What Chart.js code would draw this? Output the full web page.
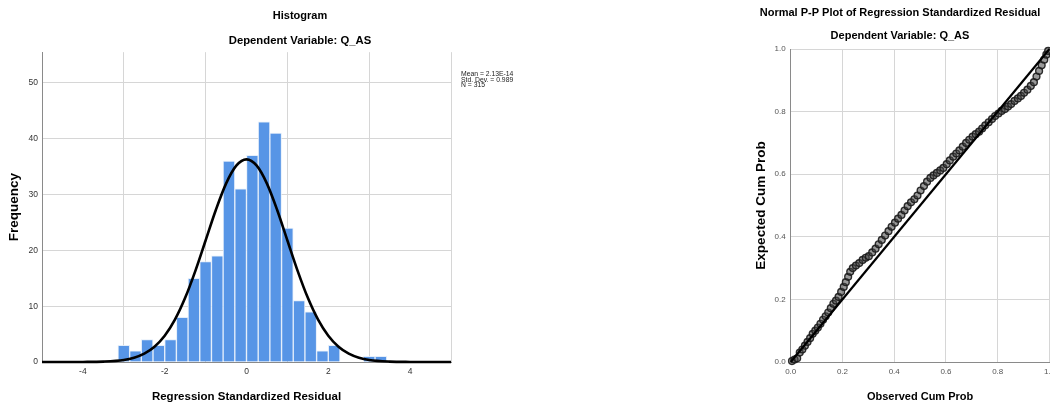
<!DOCTYPE html>
<html><head><meta charset="utf-8">
<script src="https://cdn.jsdelivr.net/npm/chart.js@4.4.1/dist/chart.umd.min.js"></script>
<style>
html,body{margin:0;padding:0;background:#fff;overflow:hidden;width:1050px;height:405px;}
#h{position:absolute;left:0;top:0;}
#p{position:absolute;left:740px;top:0;}
#stats{position:absolute;left:461px;top:71px;font:6.8px 'Liberation Sans',Arial,sans-serif;line-height:5.6px;color:#222;white-space:nowrap;}
</style></head><body>
<canvas id="h" width="600" height="405"></canvas>
<canvas id="p" width="320" height="405"></canvas>
<div id="stats"></div>
<script>
// ---- Histogram data ----
const binCenters = [-3.000,-2.714,-2.429,-2.143,-1.857,-1.571,-1.286,-1.000,-0.714,-0.429,-0.143,0.143,0.429,0.714,1.000,1.286,1.571,1.857,2.143,2.429,2.714,3.000,3.286];
const frequencies = [3,2,4,3,4,8,15,18,19,36,31,37,43,41,24,11,9,2,3,0,0,1,1];
const curveX = [-5,-4.5,-4,-3.5,-3,-2.75,-2.5,-2.25,-2,-1.75,-1.5,-1.25,-1,-0.75,-0.5,-0.25,0,0.25,0.5,0.75,1,1.25,1.5,1.75,2,2.25,2.5,2.75,3,3.5,4,4.5,5];
const curveY = [0,0,0.01,0.07,0.36,0.76,1.49,2.73,4.70,7.58,11.49,16.33,21.77,27.23,31.95,35.16,36.30,35.16,31.95,27.23,21.77,16.33,11.49,7.58,4.70,2.73,1.49,0.76,0.36,0.07,0.01,0,0];
const histXTicks = [-4,-2,0,2,4];
const histYTicks = [0,10,20,30,40,50];
const statsLines = ['Mean = 2.13E-14','Std. Dev. = 0.989','N = 315'];

// ---- P-P plot data ----
const observedCumProb = [0.005,0.015,0.025,0.035,0.045,0.055,0.065,0.075,0.085,0.095,0.105,0.115,0.125,0.135,0.145,0.155,0.165,0.175,0.185,0.195,0.205,0.213,0.222,0.230,0.240,0.252,0.265,0.278,0.290,0.302,0.315,0.328,0.340,0.352,0.365,0.378,0.390,0.403,0.415,0.428,0.440,0.452,0.465,0.478,0.490,0.502,0.515,0.527,0.540,0.552,0.565,0.578,0.590,0.603,0.615,0.628,0.640,0.652,0.665,0.678,0.690,0.703,0.715,0.728,0.740,0.752,0.765,0.778,0.790,0.803,0.815,0.828,0.840,0.852,0.865,0.878,0.890,0.902,0.915,0.928,0.940,0.950,0.960,0.970,0.980,0.988,0.995];
const expectedCumProb = [0.003,0.008,0.012,0.030,0.040,0.052,0.064,0.076,0.090,0.100,0.110,0.122,0.135,0.146,0.158,0.172,0.186,0.196,0.208,0.224,0.240,0.255,0.272,0.288,0.300,0.308,0.316,0.326,0.333,0.338,0.350,0.362,0.376,0.390,0.404,0.418,0.432,0.445,0.458,0.470,0.484,0.498,0.510,0.520,0.532,0.548,0.562,0.576,0.588,0.596,0.604,0.612,0.620,0.632,0.644,0.656,0.666,0.676,0.688,0.700,0.710,0.720,0.728,0.736,0.746,0.756,0.766,0.776,0.786,0.794,0.802,0.808,0.816,0.824,0.834,0.842,0.850,0.860,0.870,0.882,0.894,0.912,0.930,0.948,0.966,0.982,0.994];
const referenceLineX = [0,1];
const referenceLineY = [0,1];
const ppTicks = [0,0.2,0.4,0.6,0.8,1.0];

document.getElementById('stats').innerHTML = statsLines.join('<br>');

const FAM = "'Liberation Sans', Arial, sans-serif";
Chart.defaults.font.family = FAM;
const gridColor = '#d6d6d6';
const axisColor = '#8a8a8a';

new Chart(document.getElementById('h'), {
  type: 'bar',
  data: {
    datasets: [
      {type:'line', data: curveX.map((x,i)=>({x:x, y:curveY[i]})), borderColor:'#000', borderWidth:2.6,
       pointRadius:0, cubicInterpolationMode:'monotone', order:0, clip:false},
      {type:'bar', data: binCenters.map((x,i)=>({x:x, y:frequencies[i]})), backgroundColor:'#5795e6',
       borderColor:'rgba(225,236,250,0.9)', borderWidth:{left:1,right:1,top:1,bottom:0},
       barPercentage:1, categoryPercentage:1, order:1}
    ]
  },
  options: {
    responsive:false, animation:false, devicePixelRatio:1,
    layout:{padding:0},
    plugins:{
      legend:{display:false}, tooltip:{enabled:false},
      title:{display:true, text:'Histogram', color:'#000', font:{size:11, weight:'bold'}, padding:{top:9.4,bottom:4}},
      subtitle:{display:true, text:'Dependent Variable: Q_AS', color:'#000', font:{size:11.3, weight:'bold'}, padding:{top:7.6,bottom:4.4}}
    },
    scales:{
      x:{type:'linear', min:-5, max:5, offset:false,
         afterBuildTicks: s => { s.ticks = histXTicks.map(v=>({value:v})); },
         afterFit: s => { s.height = 43; },
         grid:{color:gridColor, drawTicks:false}, border:{display:true, color:axisColor},
         ticks:{color:'#333', font:{size:8.5}, padding:5},
         title:{display:true, text:'Regression Standardized Residual', color:'#000', font:{size:11.5, weight:'bold'}, padding:{top:0,bottom:1.1}}},
      y:{type:'linear', min:0, max:55.5,
         afterBuildTicks: s => { s.ticks = histYTicks.map(v=>({value:v})); },
         afterFit: s => { s.width = 42; },
         grid:{color:gridColor, drawTicks:false}, border:{display:true, color:axisColor},
         ticks:{color:'#333', font:{size:8.5}, padding:4},
         title:{display:true, text:'Frequency', color:'#000', font:{size:13.5, weight:'bold'}, padding:{top:5.9,bottom:0}}},
      y2:{type:'linear', position:'right', display:true, afterFit: s => { s.width = 149; },
          grid:{display:false}, ticks:{display:false}, border:{display:false}}
    }
  }
});

new Chart(document.getElementById('p'), {
  type: 'scatter',
  data: {
    datasets: [
      {data: observedCumProb.map((x,i)=>({x:x, y:expectedCumProb[i]})), pointRadius:3.4,
       pointBackgroundColor:'rgba(70,70,70,0.55)', pointBorderColor:'rgba(25,25,25,0.9)', pointBorderWidth:1.4,
       clip:false, order:1},
      {type:'line', data: referenceLineX.map((x,i)=>({x:x, y:referenceLineY[i]})), borderColor:'#000', borderWidth:2.2,
       pointRadius:0, clip:false, order:0}
    ]
  },
  options: {
    responsive:false, animation:false, devicePixelRatio:1,
    layout:{padding:0},
    plugins:{
      legend:{display:false}, tooltip:{enabled:false},
      title:{display:true, text:'Normal P-P Plot of Regression Standardized Residual', color:'#000', font:{size:11, weight:'bold'}, padding:{top:6.1,bottom:4}},
      subtitle:{display:true, text:'Dependent Variable: Q_AS', color:'#000', font:{size:11, weight:'bold'}, padding:{top:6.1,bottom:6.4}}
    },
    scales:{
      x:{type:'linear', min:0, max:1,
         afterBuildTicks: s => { s.ticks = ppTicks.map(v=>({value:v})); },
         afterFit: s => { s.height = 43; },
         grid:{color:gridColor, drawTicks:false}, border:{display:true, color:axisColor},
         ticks:{color:'#555', font:{size:8}, padding:5, callback: v => Number(v).toFixed(1)},
         title:{display:true, text:'Observed Cum Prob', color:'#000', font:{size:11, weight:'bold'}, padding:{top:0,bottom:1.7}}},
      y:{type:'linear', min:0, max:1,
         afterBuildTicks: s => { s.ticks = ppTicks.map(v=>({value:v})); },
         afterFit: s => { s.width = 50.7; },
         grid:{color:gridColor, drawTicks:false}, border:{display:true, color:axisColor},
         ticks:{color:'#555', font:{size:8}, padding:5, callback: v => Number(v).toFixed(1)},
         title:{display:true, text:'Expected Cum Prob', color:'#000', font:{size:13.5, weight:'bold'}, padding:{top:13.6,bottom:0}}},
      y2:{type:'linear', position:'right', display:true, afterFit: s => { s.width = 9.3; },
          grid:{display:false}, ticks:{display:false}, border:{display:false}}
    }
  }
});
</script>
</body></html>
